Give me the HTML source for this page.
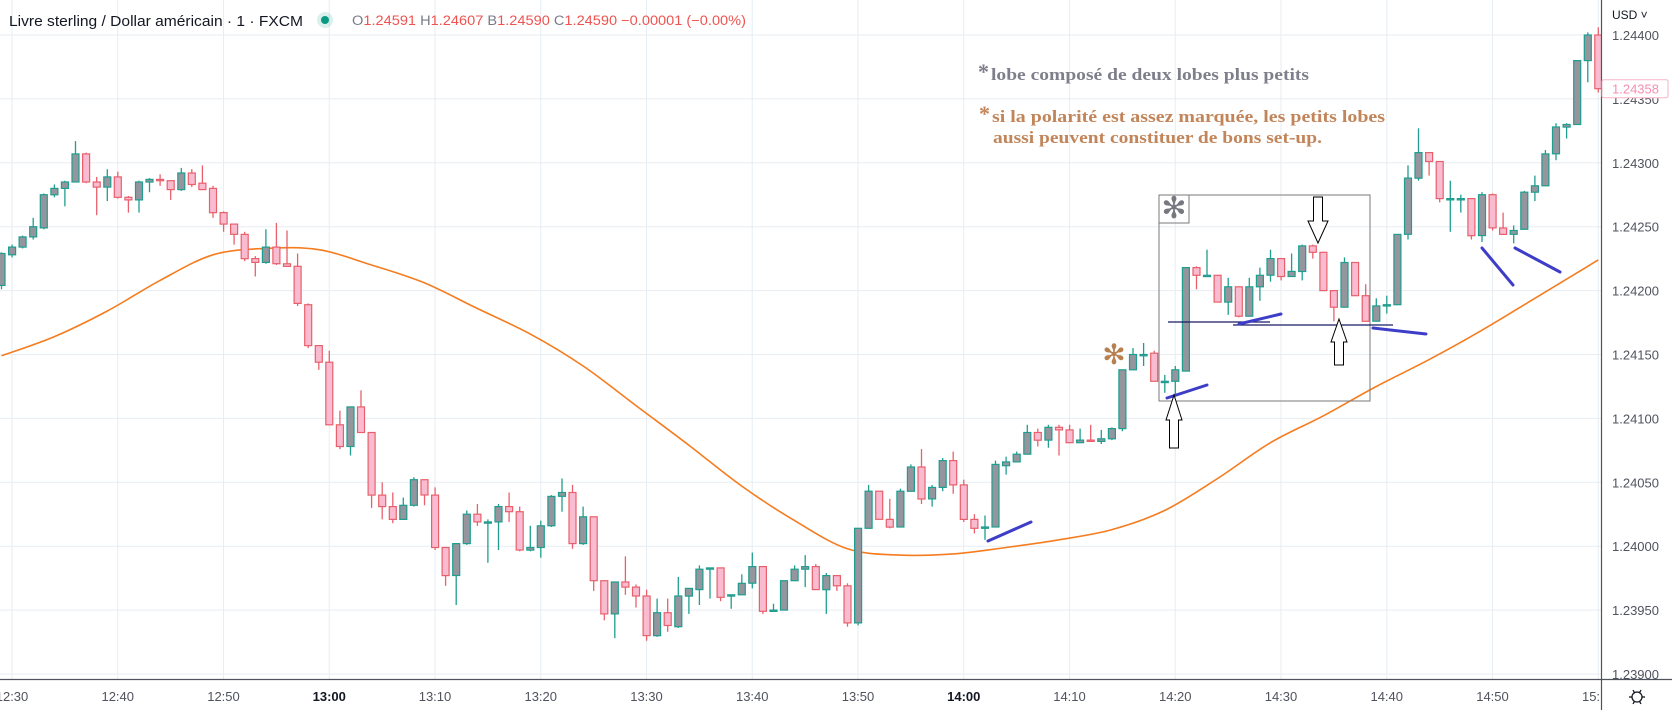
<!DOCTYPE html>
<html><head><meta charset="utf-8">
<style>
html,body{margin:0;padding:0;background:#fff;}
svg{display:block;font-family:"Liberation Sans",sans-serif;}
</style></head>
<body>
<svg id="chart" width="1672" height="710" viewBox="0 0 1672 710" xmlns="http://www.w3.org/2000/svg">
<defs><clipPath id="plotclip"><rect x="0" y="0" width="1601" height="679"/></clipPath></defs>
<rect x="0" y="0" width="1672" height="710" fill="#ffffff"/>
<g id="grid"></g>
<g id="ema" clip-path="url(#plotclip)"></g>
<g id="candles" clip-path="url(#plotclip)"></g>
<g id="annot">
  <rect x="1159" y="195" width="211" height="206" fill="none" stroke="#7a7a7a" stroke-width="1"/>
  <rect x="1159" y="195" width="30" height="28" fill="none" stroke="#7a7a7a" stroke-width="1"/>
  <text x="1174" y="218" font-size="30" text-anchor="middle" fill="#777780" font-family="DejaVu Sans, sans-serif">✻</text>
  <text x="1114" y="364" font-size="28" text-anchor="middle" fill="#b8804f" font-family="DejaVu Sans, sans-serif">✻</text>
  <line x1="1168" y1="322" x2="1270" y2="322" stroke="#1b1a66" stroke-width="1.3"/>
  <line x1="1233" y1="325" x2="1393" y2="325" stroke="#1b1a66" stroke-width="1.3"/>
  <g stroke="#3d3dc8" stroke-width="3" stroke-linecap="round">
    <line x1="988" y1="541" x2="1031" y2="522"/>
    <line x1="1167" y1="398" x2="1207" y2="385"/>
    <line x1="1239" y1="324" x2="1281" y2="314"/>
    <line x1="1373" y1="328" x2="1426" y2="334"/>
    <line x1="1482" y1="248" x2="1513" y2="285"/>
    <line x1="1515" y1="248" x2="1560" y2="272"/>
  </g>
  <path d="M1313.5,197 L1322.5,197 L1322.5,221 L1328,221 L1318,243 L1308,221 L1313.5,221 Z" fill="#fff" stroke="#000" stroke-width="1"/>
  <path d="M1339,319 L1347,342 L1343.5,342 L1343.5,365 L1334.5,365 L1334.5,342 L1331,342 Z" fill="#fff" stroke="#000" stroke-width="1"/>
  <path d="M1174,395 L1182,420 L1178.5,420 L1178.5,448 L1169.5,448 L1169.5,420 L1166,420 Z" fill="#fff" stroke="#000" stroke-width="1"/>
  <g font-family="Liberation Serif, serif" font-weight="bold">
    <text x="978" y="79" font-size="22" fill="#7f7f8c">*</text>
    <text x="991" y="80" font-size="17" fill="#7f7f8c" textLength="318" lengthAdjust="spacingAndGlyphs">lobe composé de deux lobes plus petits</text>
    <text x="979" y="121" font-size="22" fill="#c2855a">*</text>
    <text x="992" y="122" font-size="17" fill="#c2855a" textLength="393" lengthAdjust="spacingAndGlyphs">si la polarité est assez marquée, les petits lobes</text>
    <text x="993" y="143" font-size="17" fill="#c2855a" textLength="329" lengthAdjust="spacingAndGlyphs">aussi peuvent constituer de bons set-up.</text>
  </g>
</g>
<g id="header">
  <text x="9" y="26" font-size="15" fill="#131722" textLength="294" lengthAdjust="spacingAndGlyphs">Livre sterling / Dollar américain · 1 · FXCM</text>
  <circle cx="325" cy="20" r="8" fill="#089981" opacity="0.15"/>
  <circle cx="325" cy="20" r="4" fill="#089981"/>
  <text x="352" y="25" font-size="13.5" fill="#787b86" textLength="394" lengthAdjust="spacingAndGlyphs">O<tspan fill="#ef5350">1.24591</tspan> H<tspan fill="#ef5350">1.24607</tspan> B<tspan fill="#ef5350">1.24590</tspan> C<tspan fill="#ef5350">1.24590 −0.00001 (−0.00%)</tspan></text>
</g>
<g id="axes"></g>
</svg>
<script>
const opens=[1.24204,1.24228,1.24234,1.24242,1.24249,1.24275,1.24280,1.24285,1.24307,1.24285,
1.24281,1.24289,1.24273,1.24271,1.24285,1.24287,1.24286,1.24279,1.24292,1.24284,
1.24280,1.24261,1.24252,1.24244,1.24225,1.24222,1.24234,1.24221,1.24219,1.24189,
1.24157,1.24144,1.24095,1.24078,1.24109,1.24089,1.24040,1.24031,1.24021,1.24032,
1.24052,1.24040,1.23999,1.23977,1.24002,1.24025,1.24018,1.24019,1.24031,1.24027,
1.23997,1.23999,1.24016,1.24039,1.24042,1.24002,1.24023,1.23973,1.23947,1.23972,
1.23968,1.23961,1.23930,1.23948,1.23937,1.23961,1.23966,1.23982,1.23983,1.23961,
1.23962,1.23971,1.23984,1.23949,1.23950,1.23973,1.23982,1.23984,1.23966,1.23977,
1.23969,1.23940,1.24014,1.24043,1.24021,1.24015,1.24043,1.24062,1.24037,1.24046,
1.24067,1.24048,1.24021,1.24014,1.24015,1.24063,1.24066,1.24072,1.24089,1.24083,
1.24093,1.24091,1.24081,1.24083,1.24082,1.24084,1.24092,1.24138,1.24149,1.24151,
1.24128,1.24129,1.24137,1.24218,1.24211,1.24212,1.24191,1.24203,1.24180,1.24203,
1.24212,1.24225,1.24211,1.24215,1.24235,1.24230,1.24200,1.24187,1.24222,1.24196,
1.24176,1.24188,1.24189,1.24244,1.24288,1.24308,1.24301,1.24271,1.24271,1.24272,
1.24243,1.24275,1.24249,1.24244,1.24248,1.24277,1.24282,1.24307,1.24328,1.24330,
1.24380,1.24400];
const closes=[1.24229,1.24234,1.24242,1.24250,1.24275,1.24280,1.24285,1.24307,1.24285,1.24281,
1.24289,1.24273,1.24271,1.24285,1.24287,1.24286,1.24279,1.24292,1.24283,1.24279,
1.24261,1.24252,1.24244,1.24225,1.24222,1.24234,1.24221,1.24219,1.24190,1.24157,
1.24144,1.24095,1.24078,1.24109,1.24089,1.24040,1.24031,1.24021,1.24032,1.24052,
1.24040,1.23999,1.23977,1.24002,1.24025,1.24019,1.24019,1.24031,1.24027,1.23997,
1.23999,1.24016,1.24039,1.24042,1.24002,1.24023,1.23973,1.23947,1.23972,1.23968,
1.23961,1.23930,1.23948,1.23938,1.23961,1.23967,1.23982,1.23983,1.23960,1.23962,
1.23971,1.23984,1.23949,1.23950,1.23973,1.23982,1.23984,1.23966,1.23977,1.23969,
1.23940,1.24014,1.24043,1.24021,1.24015,1.24043,1.24062,1.24037,1.24046,1.24067,
1.24048,1.24021,1.24014,1.24015,1.24064,1.24066,1.24072,1.24089,1.24083,1.24093,
1.24091,1.24081,1.24083,1.24082,1.24084,1.24092,1.24138,1.24150,1.24150,1.24129,
1.24129,1.24138,1.24218,1.24212,1.24212,1.24191,1.24203,1.24180,1.24203,1.24212,
1.24225,1.24211,1.24215,1.24235,1.24230,1.24200,1.24187,1.24222,1.24196,1.24176,
1.24188,1.24189,1.24244,1.24288,1.24308,1.24301,1.24272,1.24272,1.24272,1.24243,
1.24275,1.24249,1.24244,1.24247,1.24277,1.24282,1.24307,1.24328,1.24330,1.24380,
1.24400,1.24358];
const highs=[1.24230,1.24236,1.24243,1.24257,1.24276,1.24283,1.24286,1.24317,1.24308,1.24289,
1.24295,1.24293,1.24274,1.24286,1.24288,1.24291,1.24286,1.24296,1.24295,1.24298,
1.24282,1.24262,1.24252,1.24246,1.24227,1.24248,1.24253,1.24247,1.24229,1.24190,
1.24157,1.24153,1.24106,1.24109,1.24122,1.24089,1.24050,1.24042,1.24038,1.24054,
1.24052,1.24046,1.23999,1.24002,1.24028,1.24033,1.24021,1.24033,1.24042,1.24031,
1.24016,1.24020,1.24040,1.24053,1.24048,1.24031,1.24023,1.23973,1.23972,1.23992,
1.23970,1.23966,1.23959,1.23959,1.23976,1.23967,1.23985,1.23983,1.23983,1.23962,
1.23978,1.23995,1.23984,1.23955,1.23973,1.23985,1.23993,1.23986,1.23979,1.23977,
1.23971,1.24014,1.24048,1.24043,1.24037,1.24045,1.24064,1.24076,1.24048,1.24069,
1.24074,1.24052,1.24025,1.24024,1.24067,1.24070,1.24074,1.24095,1.24092,1.24095,
1.24095,1.24095,1.24092,1.24095,1.24091,1.24093,1.24138,1.24155,1.24159,1.24153,
1.24134,1.24141,1.24218,1.24219,1.24232,1.24212,1.24210,1.24203,1.24210,1.24218,
1.24232,1.24225,1.24229,1.24236,1.24236,1.24230,1.24200,1.24226,1.24222,1.24205,
1.24194,1.24196,1.24244,1.24298,1.24327,1.24308,1.24301,1.24286,1.24275,1.24272,
1.24277,1.24276,1.24261,1.24251,1.24278,1.24290,1.24310,1.24331,1.24331,1.24380,
1.24402,1.24406];
const lows=[1.24201,1.24226,1.24233,1.24240,1.24248,1.24273,1.24266,1.24285,1.24284,1.24259,
1.24270,1.24272,1.24261,1.24261,1.24277,1.24282,1.24271,1.24278,1.24281,1.24279,
1.24257,1.24246,1.24236,1.24223,1.24211,1.24221,1.24220,1.24219,1.24188,1.24155,
1.24138,1.24095,1.24076,1.24071,1.24089,1.24030,1.24021,1.24018,1.24021,1.24031,
1.24032,1.23997,1.23969,1.23954,1.24001,1.24016,1.23987,1.23997,1.24019,1.23996,
1.23996,1.23991,1.24015,1.24027,1.23998,1.24001,1.23965,1.23942,1.23928,1.23962,
1.23952,1.23926,1.23929,1.23933,1.23936,1.23947,1.23954,1.23959,1.23957,1.23951,
1.23962,1.23967,1.23947,1.23949,1.23950,1.23973,1.23968,1.23966,1.23947,1.23965,
1.23937,1.23938,1.24014,1.24021,1.24014,1.24015,1.24043,1.24033,1.24031,1.24043,
1.24041,1.24019,1.24010,1.24005,1.24015,1.24056,1.24066,1.24072,1.24078,1.24077,
1.24071,1.24081,1.24081,1.24082,1.24080,1.24083,1.24090,1.24138,1.24141,1.24129,
1.24120,1.24118,1.24137,1.24201,1.24211,1.24191,1.24181,1.24179,1.24180,1.24192,
1.24207,1.24208,1.24211,1.24208,1.24225,1.24200,1.24176,1.24187,1.24196,1.24176,
1.24176,1.24182,1.24189,1.24240,1.24286,1.24290,1.24269,1.24246,1.24261,1.24240,
1.24238,1.24247,1.24244,1.24237,1.24248,1.24270,1.24282,1.24302,1.24319,1.24330,
1.24363,1.24355];
const emaIndex=[0,5,10,15,20,25,30,35,40,45,50,55,60,65,70,75,80,85,90,95,100,105,110,115,120,125,130,135,140,145,150,151];
const emaValues=[1.24149,1.24164,1.24184,1.24208,1.24228,1.24233,1.24232,1.24220,1.24206,1.24186,1.24166,1.24141,1.24110,1.24079,1.24047,1.24020,1.23998,1.23993,1.23994,1.23999,1.24005,1.24013,1.24028,1.24053,1.24081,1.24102,1.24125,1.24146,1.24169,1.24194,1.24219,1.24224];
const priceTicks=[1.24400,1.24350,1.24300,1.24250,1.24200,1.24150,1.24100,1.24050,1.24000,1.23950,1.23900];
const timeTicks=["12:30","12:40","12:50","13:00","13:10","13:20","13:30","13:40","13:50","14:00","14:10","14:20","14:30","14:40","14:50","15:00"];
const lastPrice=1.24358;

const NS="http://www.w3.org/2000/svg";
function xOf(i){return 1.5+i*10.575;}
function yOf(p){return 35+(1.244-p)*127800;}
function tickX(k){return 12+k*105.75;}
function mk(tag,attrs,parent){const e=document.createElementNS(NS,tag);for(const k in attrs)e.setAttribute(k,attrs[k]);parent.appendChild(e);return e;}

const grid=document.getElementById('grid');
priceTicks.forEach(p=>{
  const l=mk('line',{x1:0,x2:1601,y1:yOf(p).toFixed(1),y2:yOf(p).toFixed(1),stroke:'#e6edf3','stroke-width':1},grid);
  
  
});
timeTicks.forEach((t,k)=>{
  const x=tickX(k); if(x>1601)return;
  const l=mk('line',{x1:x,x2:x,y1:0,y2:679,stroke:'#e6edf3','stroke-width':1},grid);
  
  
});

const ema=document.getElementById('ema');
const pts=emaIndex.map((i,k)=>[xOf(i),yOf(emaValues[k])]);
let d='M'+pts[0][0]+','+pts[0][1];
for(let k=0;k<pts.length-1;k++){
  const p0=pts[k-1]||pts[k],p1=pts[k],p2=pts[k+1],p3=pts[k+2]||p2;
  const c1x=p1[0]+(p2[0]-p0[0])/6,c1y=p1[1]+(p2[1]-p0[1])/6,c2x=p2[0]-(p3[0]-p1[0])/6,c2y=p2[1]-(p3[1]-p1[1])/6;
  d+=` C${c1x.toFixed(1)},${c1y.toFixed(1)} ${c2x.toFixed(1)},${c2y.toFixed(1)} ${p2[0].toFixed(1)},${p2[1].toFixed(1)}`;
}
const emaPath=mk('path',{d:d,fill:'none',stroke:'#f57c1f','stroke-width':1.6},ema);



const cg=document.getElementById('candles');
for(let i=0;i<opens.length;i++){
  const o=opens[i],c=closes[i],h=Math.max(highs[i],o,c),lo=Math.min(lows[i],o,c);
  const up=c>=o;
  const stroke=up?'#1f9e8f':'#e8606c';
  const fill=up?'#95959d':'#f8bbd0';
  const x=xOf(i);
  const g=mk('g',{},cg);
  
  
  const w=mk('line',{x1:x.toFixed(1),x2:x.toFixed(1),y1:yOf(h).toFixed(1),y2:yOf(lo).toFixed(1),stroke:stroke,'stroke-width':1.3},g);
  
  
  const top=yOf(Math.max(o,c)),bot=yOf(Math.min(o,c));
  const b=mk('rect',{x:(x-3.5).toFixed(1),y:top.toFixed(1),width:7,height:Math.max(1,bot-top).toFixed(1),fill:fill,stroke:stroke,'stroke-width':1.2},g);
  
  
}

const ax=document.getElementById('axes');
const bl=mk('line',{x1:0,x2:1672,y1:679.5,y2:679.5,stroke:'#50535e','stroke-width':1.2},ax);


const vl=mk('line',{x1:1601.5,x2:1601.5,y1:0,y2:710,stroke:'#50535e','stroke-width':1.2},ax);


priceTicks.forEach(p=>{
  const t=mk('text',{x:1612,y:(yOf(p)+5).toFixed(1),'font-size':13,fill:'#50535e'},ax);
  t.textContent=p.toFixed(5);
  
  
});
const usd=mk('text',{x:1612,y:19,'font-size':12,fill:'#131722'},ax);
usd.textContent='USD ˅';


const lpY=yOf(lastPrice);
const lpb=mk('rect',{x:1602,y:(lpY-9).toFixed(1),width:66,height:18,fill:'#ffffff',stroke:'#f7b3c6','stroke-width':1,rx:2},ax);


const lpt=mk('text',{x:1612,y:(lpY+5).toFixed(1),'font-size':13,fill:'#f48fb1'},ax);
lpt.textContent=lastPrice.toFixed(5);


const tg=mk('g',{'clip-path':'url(#plotclip2)'},ax);
const cp=mk('clipPath',{id:'plotclip2'},ax);mk('rect',{x:0,y:680,width:1600,height:30},cp);
timeTicks.forEach((t,k)=>{
  const bold=(t==="13:00"||t==="14:00");
  const e=mk('text',{x:tickX(k),y:701,'font-size':13,fill:bold?'#131722':'#50535e','font-weight':bold?'bold':'normal','text-anchor':'middle'},tg);
  e.textContent=t;
  
  
});
const gear=mk('g',{transform:'translate(1637,697)'},ax);


mk('circle',{cx:0,cy:0,r:5,fill:'none',stroke:'#131722','stroke-width':1.3},gear);
for(let a=0;a<360;a+=60){const r=a*Math.PI/180;mk('line',{x1:(5*Math.cos(r)).toFixed(1),y1:(5*Math.sin(r)).toFixed(1),x2:(8*Math.cos(r)).toFixed(1),y2:(8*Math.sin(r)).toFixed(1),stroke:'#131722','stroke-width':1.3},gear);}
</script>
</body></html>
